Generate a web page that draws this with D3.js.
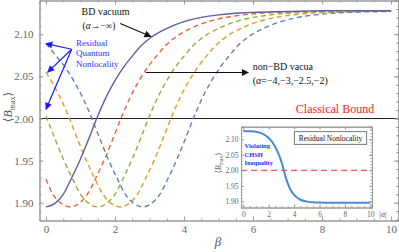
<!DOCTYPE html>
<html>
<head>
<meta charset="utf-8">
<script src="https://cdn.jsdelivr.net/npm/d3@7"></script>
<style>
  body { margin: 0; background: #fff; }
  svg { display: block; }
  text { font-family: "Liberation Serif", "DejaVu Serif", serif; }
</style>
</head>
<body>
<div class="svg-container"></div>
<script>
"use strict";

// main panel: <B_max> against beta
var bdBeta = [0,0.25,0.5,0.75,1,1.25,1.5,1.75,2,2.25,2.5,2.75,3,3.5,4,4.5,5,5.5,6,7,8,9,10];
var bdB = [1.895,1.899,1.910,1.930,1.952,1.977,2.003,2.026,2.045,2.061,2.074,2.086,2.095,2.107,2.115,2.120,2.123,2.125,2.126,2.127,2.128,2.128,2.128];

var redBeta = [0,0.2,0.45,0.7,0.95,1.2,1.45,1.7,1.95,2.2,2.45,2.7,2.95,3.2,3.45,3.7,4.2,4.7,5.2,5.7,6.2,6.7,7.7,8.7,10];
var redB = [1.928,1.910,1.899,1.895,1.899,1.910,1.930,1.952,1.977,2.003,2.026,2.045,2.061,2.074,2.086,2.095,2.107,2.115,2.120,2.123,2.125,2.126,2.127,2.128,2.128];

var greenBeta = [0,0.25,0.5,0.75,1,1.25,1.5,1.75,2,2.25,2.5,2.75,3,3.25,3.5,3.75,4,4.25,4.5,5,5.5,6,6.5,7,7.5,8.5,10];
var greenB = [2.003,1.977,1.952,1.930,1.910,1.899,1.895,1.899,1.910,1.930,1.952,1.977,2.003,2.026,2.045,2.061,2.074,2.086,2.095,2.107,2.115,2.120,2.123,2.125,2.126,2.127,2.128];

var orangeBeta = [0,0.15,0.4,0.65,0.9,1.15,1.4,1.65,1.9,2.15,2.4,2.65,2.9,3.15,3.4,3.65,3.9,4.15,4.4,4.65,4.9,5.15,5.65,6.15,6.65,7.15,7.65,8.15,9.15,10];
var orangeB = [2.055,2.045,2.026,2.003,1.977,1.952,1.930,1.910,1.899,1.895,1.899,1.910,1.930,1.952,1.977,2.003,2.026,2.045,2.061,2.074,2.086,2.095,2.107,2.115,2.120,2.123,2.125,2.126,2.127,2.128];

var blueBeta = [0,0.3,0.55,0.8,1.05,1.3,1.55,1.8,2.05,2.3,2.55,2.8,3.05,3.3,3.55,3.8,4.05,4.3,4.55,4.8,5.05,5.3,5.55,5.8,6.3,6.8,7.3,7.8,8.3,8.8,10];
var blueB = [2.089,2.074,2.061,2.045,2.026,2.003,1.977,1.952,1.930,1.910,1.899,1.895,1.899,1.910,1.930,1.952,1.977,2.003,2.026,2.045,2.061,2.074,2.086,2.095,2.107,2.115,2.120,2.123,2.125,2.126,2.127];

var classicalBound = 2.0;
var betaTicks = [0,2,4,6,8,10];
var bTicks = [1.90,1.95,2.00,2.05,2.10];

// inset: <B_max> at beta = 0 against |alpha|
var alphaAbs = [0,0.5,1,1.5,2,2.5,2.75,3,3.25,3.5,3.75,4,4.5,5,5.5,6,7,8,9,10];
var insetB = [2.127,2.126,2.124,2.118,2.104,2.077,2.055,2.028,1.990,1.958,1.935,1.921,1.905,1.899,1.897,1.896,1.895,1.895,1.895,1.895];
var alphaTicks = [0,2,4,6,8,10];

var width = 399, height = 252;

var svg = d3.select('.svg-container')
    .append('svg')
    .attr('width', width)
    .attr('height', height);

var defs = svg.append('defs');
function marker(id, color) {
  defs.append('marker')
      .attr('id', id)
      .attr('viewBox', '0 0 10 10')
      .attr('refX', 9).attr('refY', 5)
      .attr('markerUnits', 'userSpaceOnUse')
      .attr('markerWidth', 9).attr('markerHeight', 7)
      .attr('orient', 'auto')
    .append('path')
      .attr('d', 'M0,0L10,5L0,10z')
      .attr('fill', color);
}
marker('arrK', '#111');
marker('arrB', '#1a1aff');

// frame with inward ticks on all four sides (Mathematica style)
function frame(g, x, y, o) {
  var x0 = x.range()[0], x1 = x.range()[1], y0 = y.range()[0], y1 = y.range()[1];
  var xMinor = d3.range(0, 10.01, 0.5);
  var yMinor = d3.range(1.88, 2.1401, 0.01);

  function style(sel) {
    sel.selectAll('path,line').attr('stroke', '#9a9a9a').attr('stroke-width', 1);
    sel.attr('font-family', '"Liberation Serif", serif')
       .attr('font-size', o.fs)
       .selectAll('text').attr('fill', '#666');
  }

  g.append('g').attr('transform', 'translate(0,' + y0 + ')')
      .call(d3.axisBottom(x).tickValues(xMinor).tickSize(-o.minor).tickFormat(''))
      .call(style);
  g.append('g').attr('transform', 'translate(0,' + y0 + ')')
      .call(d3.axisBottom(x).tickValues(o.xTicks).tickSizeInner(-o.major).tickSizeOuter(0)
        .tickPadding(o.xPad).tickFormat(d3.format('d')))
      .call(style);
  g.append('g').attr('transform', 'translate(0,' + y1 + ')')
      .call(d3.axisTop(x).tickValues(xMinor).tickSize(-o.minor).tickFormat(''))
      .call(style);
  g.append('g').attr('transform', 'translate(0,' + y1 + ')')
      .call(d3.axisTop(x).tickValues(o.xTicks).tickSize(-o.major).tickFormat(''))
      .call(style);

  g.append('g').attr('transform', 'translate(' + x0 + ',0)')
      .call(d3.axisLeft(y).tickValues(yMinor).tickSize(-o.minor).tickFormat(''))
      .call(style);
  g.append('g').attr('transform', 'translate(' + x0 + ',0)')
      .call(d3.axisLeft(y).tickValues(o.yTicks).tickSizeInner(-o.major).tickSizeOuter(0)
        .tickPadding(o.yPad).tickFormat(d3.format('.2f')))
      .call(style);
  g.append('g').attr('transform', 'translate(' + x1 + ',0)')
      .call(d3.axisRight(y).tickValues(yMinor).tickSize(-o.minor).tickFormat(''))
      .call(style);
  g.append('g').attr('transform', 'translate(' + x1 + ',0)')
      .call(d3.axisRight(y).tickValues(o.yTicks).tickSize(-o.major).tickFormat(''))
      .call(style);
}

// ---------- main panel ----------
var x = d3.scaleLinear().domain([-0.188, 10.2]).range([39.5, 398]);
var y = d3.scaleLinear().domain([1.8789, 2.1401]).range([220.5, 0.5]);

var main = svg.append('g').attr('class', 'main');

main.append('line')
    .attr('x1', x.range()[0]).attr('x2', x.range()[1])
    .attr('y1', y(classicalBound)).attr('y2', y(classicalBound))
    .attr('stroke', '#222').attr('stroke-width', 1);

var line = d3.line()
    .x(function(d){ return x(d[0]); })
    .y(function(d){ return y(d[1]); })
    .curve(d3.curveMonotoneX);

var series = [
  {b: redBeta,    v: redB,    color: '#eb6235', dash: '5,3.5'},
  {b: greenBeta,  v: greenB,  color: '#8fb032', dash: '5,3.5'},
  {b: orangeBeta, v: orangeB, color: '#e19c24', dash: '5,3.5'},
  {b: blueBeta,   v: blueB,   color: '#5e81b5', dash: '5,3.5'},
  {b: bdBeta,     v: bdB,     color: '#5e5fa3', dash: null}
];

main.append('g').attr('class', 'curves')
  .selectAll('path')
  .data(series)
  .enter().append('path')
    .attr('d', function(s){ return line(d3.zip(s.b, s.v)); })
    .attr('fill', 'none')
    .attr('stroke', function(s){ return s.color; })
    .attr('stroke-width', 1.4)
    .attr('stroke-dasharray', function(s){ return s.dash; });

frame(main, x, y, {xTicks: betaTicks, yTicks: bTicks, major: 4, minor: 2, fs: 11, xPad: 4.5, yPad: 6});

main.append('text')
    .attr('transform', 'translate(12,107) rotate(-90)')
    .attr('text-anchor', 'middle')
    .attr('font-size', 12).attr('fill', '#555')
    .html('⟨<tspan font-style="italic">B</tspan><tspan font-size="8" dy="3">max</tspan><tspan dy="-3">⟩</tspan>');

main.append('text')
    .attr('x', 218).attr('y', 246)
    .attr('text-anchor', 'middle')
    .attr('font-size', 13).attr('font-style', 'italic').attr('fill', '#555')
    .text('β');

// annotations
main.append('text').attr('x', x(1.03)).attr('y', y(2.1225))
    .attr('font-size', 10).attr('fill', '#111').text('BD vacuum');
main.append('text').attr('x', x(1.06)).attr('y', y(2.1068))
    .attr('font-size', 9.5).attr('fill', '#111')
    .html('(<tspan font-style="italic">α</tspan>→−∞)');
main.append('line')
    .attr('x1', x(2.15)).attr('y1', y(2.1128))
    .attr('x2', x(3.04)).attr('y2', y(2.0974))
    .attr('stroke', '#111').attr('stroke-width', 1.1)
    .attr('marker-end', 'url(#arrK)');

main.append('line')
    .attr('x1', x(2.89)).attr('y1', y(2.0546))
    .attr('x2', x(5.86)).attr('y2', y(2.0546))
    .attr('stroke', '#111').attr('stroke-width', 1.1)
    .attr('marker-end', 'url(#arrK)');
main.append('text').attr('x', x(5.99)).attr('y', y(2.0572))
    .attr('font-size', 10).attr('fill', '#111').text('non−BD vacua');
main.append('text').attr('x', x(5.99)).attr('y', y(2.0412))
    .attr('font-size', 10).attr('fill', '#111')
    .html('(<tspan font-style="italic">α</tspan>=−4,−3,−2.5,−2)');

main.append('text').attr('x', x(7.24)).attr('y', y(2.0069))
    .attr('font-size', 12).attr('fill', '#ff2222').text('Classical Bound');

var rq = ['Residual', 'Quantum', 'Nonlocality'];
main.append('g').selectAll('text')
  .data(rq).enter().append('text')
    .attr('x', x(0.87))
    .attr('y', function(d, i){ return y(2.0866) + i * 10.7; })
    .attr('font-size', 9).attr('fill', '#3333ff')
    .text(function(d){ return d; });

// arrows point at the beta = 0 start of the alpha = -2, -2.5, -3 curves
var rqTips = [[0, blueB[0]], [0.05, orangeB[0]], [0, greenB[0] + 0.008]];
main.append('g').selectAll('line')
  .data(rqTips).enter().append('line')
    .attr('x1', x(0.745)).attr('y1', y(2.0822))
    .attr('x2', function(d){ return x(d[0]); })
    .attr('y2', function(d){ return y(d[1]); })
    .attr('stroke', '#1a1aff').attr('stroke-width', 1.2)
    .attr('marker-end', 'url(#arrB)');

// ---------- inset ----------
var xi = d3.scaleLinear().domain([-0.18, 10.13]).range([241, 372]);
var yi = d3.scaleLinear().domain([1.88, 2.1406]).range([207.5, 126.7]);

var inset = svg.append('g').attr('class', 'inset');
inset.append('rect')
    .attr('x', 241).attr('y', 126.7)
    .attr('width', 131).attr('height', 80.8)
    .attr('fill', '#fff');

inset.append('line')
    .attr('x1', xi.range()[0]).attr('x2', xi.range()[1])
    .attr('y1', yi(classicalBound)).attr('y2', yi(classicalBound))
    .attr('stroke', '#ff2a2a').attr('stroke-width', 1)
    .attr('stroke-dasharray', '6,4');

var lineI = d3.line()
    .x(function(d){ return xi(d[0]); })
    .y(function(d){ return yi(d[1]); })
    .curve(d3.curveMonotoneX);

inset.append('path')
    .attr('d', lineI(d3.zip(alphaAbs, insetB)))
    .attr('fill', 'none')
    .attr('stroke', '#4a8bd6')
    .attr('stroke-width', 2);

frame(inset, xi, yi, {xTicks: alphaTicks, yTicks: bTicks, major: 3, minor: 1.5, fs: 7.5, xPad: 4, yPad: 2.5});

inset.append('text')
    .attr('transform', 'translate(221,163) rotate(-90)')
    .attr('text-anchor', 'middle')
    .attr('font-size', 8).attr('fill', '#555')
    .html('⟨<tspan font-style="italic">B</tspan><tspan font-size="5.5" dy="2">max</tspan><tspan dy="-2">⟩</tspan>');

inset.append('text')
    .attr('x', 383).attr('y', 217)
    .attr('text-anchor', 'middle')
    .attr('font-size', 8).attr('fill', '#555')
    .html('|<tspan font-style="italic">α</tspan>|');

inset.append('rect')
    .attr('x', 294.3).attr('y', 131.7)
    .attr('width', 72.4).attr('height', 12.6)
    .attr('fill', '#fff').attr('stroke', '#555').attr('stroke-width', 0.8);
inset.append('text')
    .attr('x', 330.5).attr('y', 140.6)
    .attr('text-anchor', 'middle')
    .attr('font-size', 7.5).attr('fill', '#111')
    .text('Residual Nonlocality');

var vc = ['Violating', 'CHSH', 'Inequality'];
inset.append('g').selectAll('text')
  .data(vc).enter().append('text')
    .attr('x', 244.5)
    .attr('y', function(d, i){ return 148.3 + i * 8.3; })
    .attr('font-size', 6.5).attr('font-weight', 'bold').attr('fill', '#2b2bff')
    .text(function(d){ return d; });
</script>
</body>
</html>
